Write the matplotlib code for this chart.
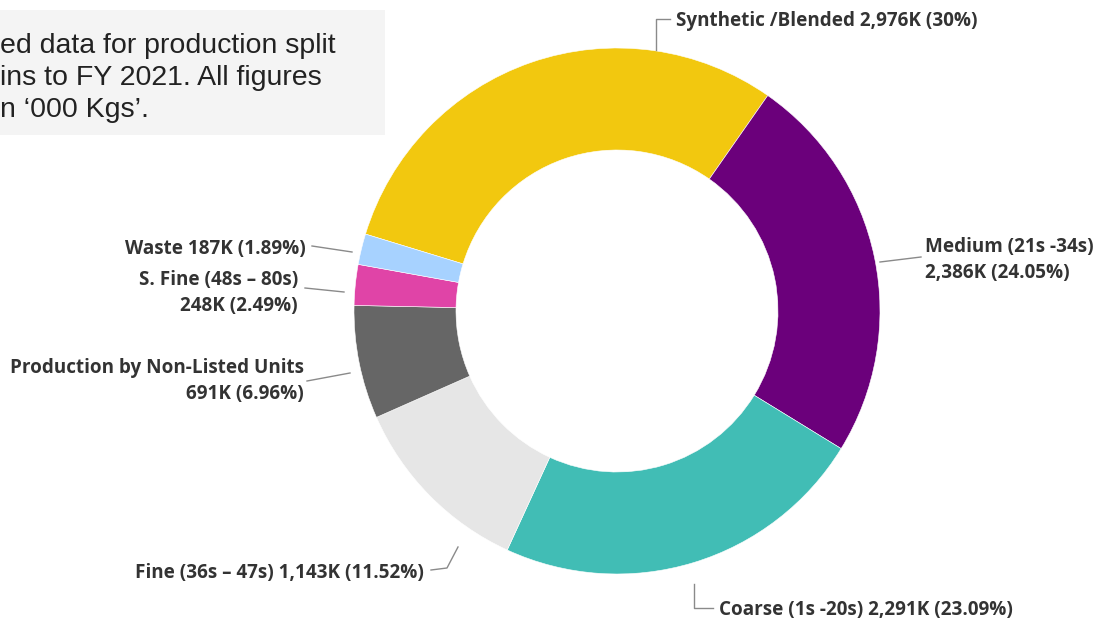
import matplotlib.pyplot as plt
from matplotlib.patches import Rectangle

# Production split, '000 Kgs
categories = ["Synthetic /Blended", "Medium (21s -34s)", "Coarse (1s -20s)",
              "Fine (36s \u2013 47s)", "Production by Non-Listed Units",
              "S. Fine (48s \u2013 80s)", "Waste"]
values = [2976, 2386, 2291, 1143, 691, 248, 187]
value_labels = ["2,976K", "2,386K", "2,291K", "1,143K", "691K", "248K", "187K"]
pct_labels = ["30%", "24.05%", "23.09%", "11.52%", "6.96%", "2.49%", "1.89%"]
colors = ["#F2C80F", "#6B007B", "#41BDB5", "#E6E6E6", "#666666", "#E044A7", "#A7D2FF"]

W, H = 1104, 621
fig = plt.figure(figsize=(W / 100, H / 100), dpi=100)
ax = fig.add_axes([0, 0, 1, 1])

def Y(y):
    # image-style y (top down) -> axes y
    return H - y

cx, cy, r_out, r_in = 617, 311, 263, 161
ax.pie(values, colors=colors, startangle=163, counterclock=False,
       center=(cx, Y(cy)), radius=r_out,
       wedgeprops=dict(width=r_out - r_in, edgecolor="white", linewidth=0.4))
ax.set_xlim(0, W)
ax.set_ylim(0, H)
ax.set_aspect("equal")
ax.axis("off")

# note box in the top-left corner
ax.add_patch(Rectangle((0, Y(135)), 385, 125, facecolor="#F4F4F4", edgecolor="none"))
note = ["ed data for production split", "ins to FY 2021. All figures", "n \u2018000 Kgs\u2019."]
for i, line in enumerate(note):
    ax.text(0, Y(46 + i * 32), line, fontsize=20.5, family="Liberation Sans",
            color="#222222", va="center", ha="left")

lab = dict(fontsize=13.6, family="Open Sans", fontweight="bold", color="#333333")
lc = dict(color="#8a8a8a", lw=1)

def lbl(i, sep=" "):
    return f"{categories[i]}{sep}{value_labels[i]} ({pct_labels[i]})"

# Synthetic
ax.plot([656, 656, 670], [Y(50), Y(19), Y(19)], **lc)
ax.text(676, Y(21), lbl(0), ha="left", va="center", **lab)
# Medium
ax.plot([880, 921], [Y(262), Y(257)], **lc)
ax.text(925, Y(260), lbl(1, "\n"), ha="left", va="center", linespacing=1.45, **lab)
# Coarse
ax.plot([694, 694, 713], [Y(584), Y(608), Y(608)], **lc)
ax.text(719, Y(610), lbl(2), ha="left", va="center", **lab)
# Fine
ax.plot([458, 447, 431], [Y(547), Y(568), Y(570)], **lc)
ax.text(424, Y(573), lbl(3), ha="right", va="center", **lab)
# Non-listed
ax.plot([350, 307], [Y(373), Y(381)], **lc)
ax.text(304, Y(381), lbl(4, "\n"), ha="right", va="center", linespacing=1.45,
        multialignment="right", **lab)
# S. Fine
ax.plot([344, 305], [Y(292), Y(288)], **lc)
ax.text(298, Y(293), lbl(5, "\n"), ha="right", va="center", linespacing=1.45,
        multialignment="right", **lab)
# Waste
ax.plot([352, 312], [Y(252), Y(246)], **lc)
ax.text(306, Y(249), lbl(6), ha="right", va="center", **lab)

fig.savefig("out.png", dpi=100)
